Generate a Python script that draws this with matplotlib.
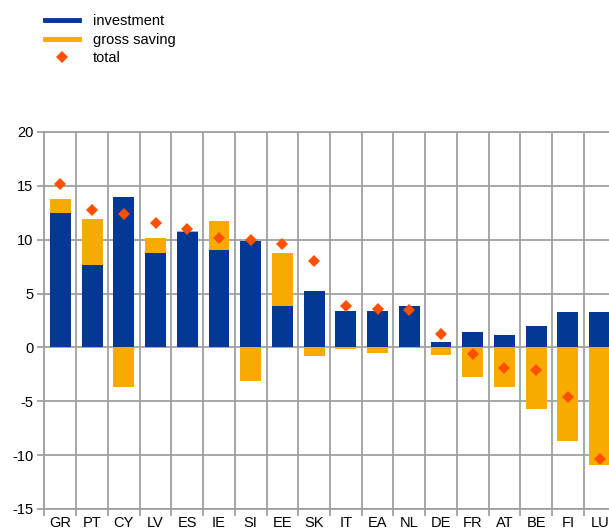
import numpy as np
import matplotlib
matplotlib.use('Agg')
import matplotlib.pyplot as plt
from matplotlib.lines import Line2D

plt.rcParams['font.family'] = ['Liberation Sans', 'DejaVu Sans']
plt.rcParams['axes.unicode_minus'] = False

countries = ['GR', 'PT', 'CY', 'LV', 'ES', 'IE', 'SI', 'EE', 'SK',
             'IT', 'EA', 'NL', 'DE', 'FR', 'AT', 'BE', 'FI', 'LU']
investment = [12.45, 7.66, 13.95, 8.77, 10.71, 9.05, 9.88, 3.86, 5.25,
              3.40, 3.40, 3.86, 0.53, 1.45, 1.18, 2.01, 3.31, 3.31]
gross_saving = [1.32, 4.26, -3.70, 1.39, 0.09, 2.68, -3.15, 4.91, -0.77,
                -0.18, -0.55, -0.05, -0.74, -2.71, -3.64, -5.74, -8.70, -10.93]
total = [15.2, 12.75, 12.35, 11.55, 10.96, 10.13, 10.0, 9.63, 8.06,
         3.80, 3.61, 3.49, 1.24, -0.62, -1.91, -2.10, -4.56, -10.40]

blue = '#003894'
yellow = '#f7ab00'
red = '#ff4f00'
grid_col = '#a0a0a0'

x = np.arange(len(countries))
inv = np.array(investment)
sav = np.array(gross_saving)
bottom = np.where(sav > 0, inv, 0)

fig = plt.figure(figsize=(6.09, 5.32), dpi=100)
ax = fig.add_axes([44.5 / 609, 1 - 509 / 532, 571 / 609, 377 / 532])

ax.bar(x, inv, width=0.66, color=blue, zorder=2)
ax.bar(x, sav, bottom=bottom, width=0.66, color=yellow, zorder=2)
ax.plot(x, total, linestyle='none', marker='D', markersize=6.5,
        color=red, markeredgewidth=0, zorder=3)

ax.set_xlim(-0.5, len(countries) - 0.5)
ax.set_ylim(-15, 20)
ax.set_yticks(range(-15, 21, 5))
ax.set_xticks(x)
ax.set_xticklabels(countries)
ax.set_xticks(np.arange(-0.5, len(countries), 1), minor=True)

ax.grid(axis='y', which='major', color=grid_col, lw=1.3, zorder=0)
ax.grid(axis='x', which='minor', color=grid_col, lw=1.3, zorder=0)
ax.tick_params(axis='x', which='major', length=0, pad=5, labelsize=10.5)
ax.tick_params(axis='x', which='minor', length=5, color=grid_col, width=1.3)
ax.tick_params(axis='y', length=5, color=grid_col, width=1.3, pad=3,
               labelsize=10.5)
for s in ax.spines.values():
    s.set_color(grid_col)
    s.set_linewidth(1.3)

handles = [Line2D([], [], color=blue, lw=3.5),
           Line2D([], [], color=yellow, lw=3.5),
           Line2D([], [], linestyle='none', marker='D', markersize=6.5,
                  color=red, markeredgewidth=0)]
fig.legend(handles, ['investment', 'gross saving', 'total'],
           loc='upper left', bbox_to_anchor=(32 / 609, 1 - 1 / 532),
           frameon=False, fontsize=10.5, handlelength=2.3,
           handletextpad=1.0, labelspacing=0.32)

fig.savefig('out.png', dpi=100)
